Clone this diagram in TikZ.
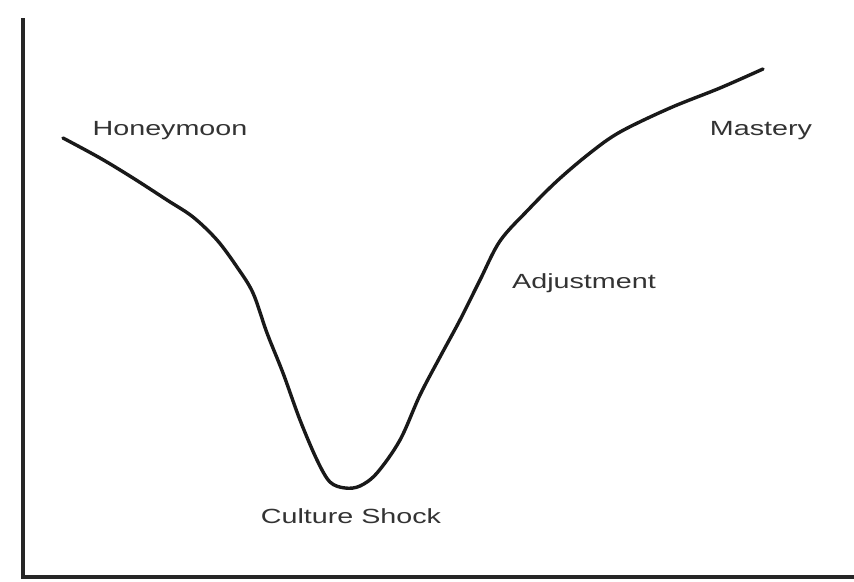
\documentclass[tikz,border=0pt]{standalone}
\usepackage{fontspec}
\setmainfont{Liberation Sans}
\begin{document}
\begin{tikzpicture}[x=1pt,y=-1pt,
  axisline/.style={line width=3.5pt,draw=black!85},
  curveline/.style={line width=3.4pt,draw=black!90,line join=round,line cap=round},
  lbl/.style={font=\fontsize{20.5}{24}\selectfont,text=black!80,inner sep=0pt,anchor=base,xscale=1.4}]
\useasboundingbox[fill=white] (0,0) rectangle (854,581);
\coordinate (top) at (23,18);
\coordinate (origin) at (23,577);
\coordinate (right) at (854,577);
\draw[axisline] (top) -- (origin) -- (right);
\draw[curveline] plot[smooth,tension=0.55] coordinates {
 (63,138) (100,158) (133,178) (167,200) (193,217) (217,240) (237,267) (253,293)
 (267,333) (283,373) (300,420) (317,460) (330,482) (345,488) (360,486) (377,473)
 (400,440) (420,395) (440,357) (460,320) (480,280) (500,241) (528,210) (557,181)
 (590,153) (620,132) (670,108) (720,88) (763,69)};
\node[lbl] (honey) at (170,135) {Honeymoon};
\node[lbl] (mastery) at (761,135) {Mastery};
\node[lbl] (adjust) at (584,288) {Adjustment};
\node[lbl] (shock) at (351,523) {Culture Shock};
\end{tikzpicture}
\end{document}
